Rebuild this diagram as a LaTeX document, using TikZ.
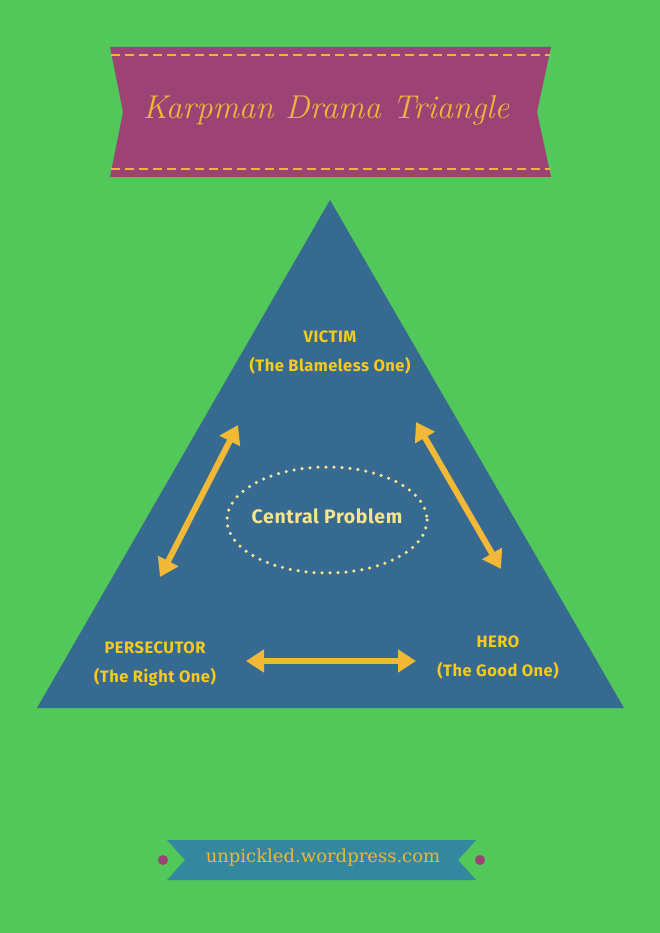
\documentclass[tikz,border=0pt]{standalone}
\usepackage{fontspec}
\setsansfont{Fira Sans}
\newfontfamily\rolefont{Fira Sans}[LetterSpace=3]
\newfontfamily\slabfont{DejaVu Serif}
\usetikzlibrary{arrows.meta,shapes.geometric}
\definecolor{bggreen}{HTML}{52C75A}
\definecolor{bannerpurple}{HTML}{9C4275}
\definecolor{stitch}{HTML}{F0B43C}
\definecolor{triblue}{HTML}{366A91}
\definecolor{labelyellow}{HTML}{F8CB1A}
\definecolor{arrowyellow}{HTML}{F2B936}
\definecolor{dotyellow}{HTML}{F8E58A}
\definecolor{ribbonblue}{HTML}{33879F}
\definecolor{urlyellow}{HTML}{E8B93A}
\tikzset{
  rolelabel/.style={text=labelyellow,font=\rolefont\bfseries\fontsize{16.5}{29}\selectfont,align=center,inner sep=0pt},
  twoway/.style={draw=arrowyellow,line width=6pt,{Triangle[width=22pt,length=18pt]}-{Triangle[width=22pt,length=18pt]}},
  dotring/.style={draw=dotyellow,line width=3.5pt,line cap=round,dash pattern=on 0pt off 8pt},
}
\begin{document}
\begin{tikzpicture}[x=1pt,y=-1pt]
\fill[bggreen] (0,0) rectangle (660,933);
\useasboundingbox (0,0) rectangle (660,933);
% title banner
\fill[bannerpurple] (110,47) -- (551,47) -- (537,112) -- (551,177) -- (110,177) -- (123,112) -- cycle;
\draw[stitch,line width=2pt,dash pattern=on 9pt off 5pt] (111,55) -- (550,55);
\draw[stitch,line width=2pt,dash pattern=on 9pt off 5pt] (111,169) -- (550,169);
\node[text=stitch,font=\itshape\fontsize{33}{38}\selectfont,inner sep=0pt] (title) at (326,110) {Karpman Drama Triangle};
% triangle
\fill[triblue] (330,200) -- (624,708) -- (37,708) -- cycle;
\node[rolelabel] (victim) at (330,352) {VICTIM\\(The Blameless One)};
\node[rolelabel] (pers) at (155,664) {PERSECUTOR\\(The Right One)};
\node[rolelabel] (hero) at (498,657) {HERO\\(The Good One)};
% central problem
\node[inner sep=0pt,text=dotyellow,font=\rolefont\bfseries\fontsize{19.5}{22}\selectfont] (central) at (327,516) {Central Problem};
\draw[dotring] (327,520) ellipse [x radius=100, y radius=53];
% arrows
\coordinate (l1) at (160,577);
\coordinate (l2) at (238,425);
\coordinate (r1) at (416,422);
\coordinate (r2) at (501,569);
\coordinate (b1) at (246,661);
\coordinate (b2) at (416,661);
\draw[twoway] (l1) -- (l2);
\draw[twoway] (r1) -- (r2);
\draw[twoway] (b1) -- (b2);
% bottom ribbon
\fill[ribbonblue] (167,840) -- (476,840) -- (458,860) -- (476,880) -- (167,880) -- (185,860) -- cycle;
\fill[bannerpurple] (163,860) circle (5pt);
\fill[bannerpurple] (480,860) circle (5pt);
\node[text=urlyellow,font=\slabfont\fontsize{18}{20}\selectfont,inner sep=0pt] (url) at (323,858) {unpickled.wordpress.com};
\end{tikzpicture}
\end{document}
